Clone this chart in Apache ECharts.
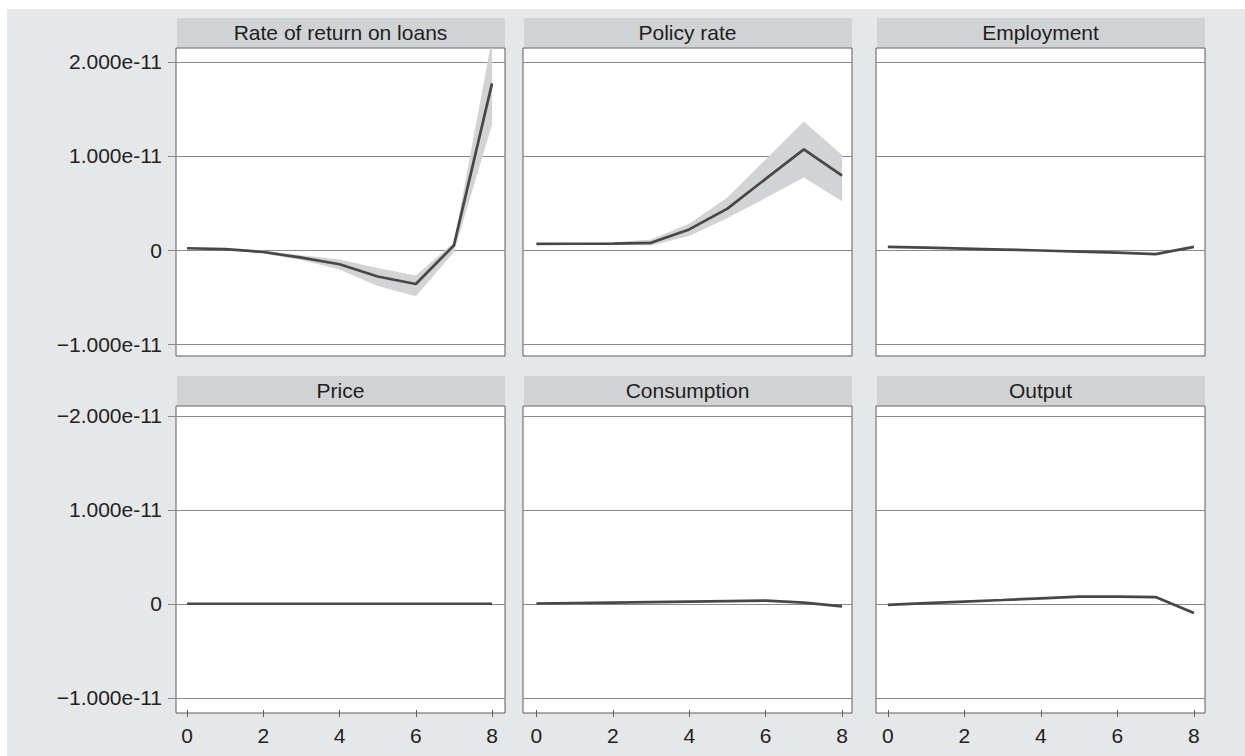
<!DOCTYPE html>
<html><head><meta charset="utf-8">
<script src="https://cdn.jsdelivr.net/npm/echarts@6/dist/echarts.min.js"></script>
<style>
html,body{margin:0;padding:0;background:#fff;}
#bg{position:absolute;left:7px;top:9px;width:1238px;height:747px;background:#e6e7e9;}
#chart{position:absolute;left:0;top:0;width:1245px;height:756px;}
</style></head><body>
<div id="bg"></div><div id="chart"></div>
<script>
// ---------------- DATA ----------------
const steps = [0, 1, 2, 3, 4, 5, 6, 7, 8];
const panelTitles = ['Rate of return on loans', 'Policy rate', 'Employment', 'Price', 'Consumption', 'Output'];

const rateMean  = [0.02e-11, 0.01e-11, -0.02e-11, -0.08e-11, -0.15e-11, -0.28e-11, -0.36e-11, 0.05e-11, 1.77e-11];
const rateUpper = [0.025e-11, 0.015e-11, -0.005e-11, -0.055e-11, -0.10e-11, -0.19e-11, -0.27e-11, 0.08e-11, 2.25e-11];
const rateLower = [0.015e-11, 0.005e-11, -0.035e-11, -0.105e-11, -0.205e-11, -0.38e-11, -0.49e-11, -0.02e-11, 1.33e-11];

const policyMean  = [0.067e-11, 0.068e-11, 0.070e-11, 0.078e-11, 0.22e-11, 0.44e-11, 0.757e-11, 1.07e-11, 0.79e-11];
const policyUpper = [0.075e-11, 0.077e-11, 0.082e-11, 0.114e-11, 0.28e-11, 0.56e-11, 0.963e-11, 1.365e-11, 1.01e-11];
const policyLower = [0.060e-11, 0.060e-11, 0.060e-11, 0.050e-11, 0.15e-11, 0.34e-11, 0.553e-11, 0.77e-11, 0.52e-11];

const employMean  = [0.035e-11, 0.026e-11, 0.016e-11, 0.006e-11, -0.004e-11, -0.015e-11, -0.027e-11, -0.043e-11, 0.035e-11];
const employUpper = [0.040e-11, 0.031e-11, 0.021e-11, 0.011e-11, 0.001e-11, -0.010e-11, -0.022e-11, -0.038e-11, 0.040e-11];
const employLower = [0.030e-11, 0.021e-11, 0.011e-11, 0.001e-11, -0.009e-11, -0.020e-11, -0.032e-11, -0.048e-11, 0.030e-11];

const priceMean  = [0, 0, 0, 0, 0, 0, 0, 0, 0];
const priceUpper = [0.002e-11, 0.002e-11, 0.002e-11, 0.002e-11, 0.002e-11, 0.002e-11, 0.002e-11, 0.002e-11, 0.002e-11];
const priceLower = [-0.002e-11, -0.002e-11, -0.002e-11, -0.002e-11, -0.002e-11, -0.002e-11, -0.002e-11, -0.002e-11, -0.002e-11];

const consMean  = [0.003e-11, 0.008e-11, 0.013e-11, 0.018e-11, 0.023e-11, 0.028e-11, 0.033e-11, 0.013e-11, -0.028e-11];
const consUpper = [0.006e-11, 0.011e-11, 0.016e-11, 0.021e-11, 0.026e-11, 0.031e-11, 0.037e-11, 0.017e-11, -0.022e-11];
const consLower = [0.000e-11, 0.005e-11, 0.010e-11, 0.015e-11, 0.020e-11, 0.025e-11, 0.029e-11, 0.009e-11, -0.034e-11];

const outMean  = [-0.011e-11, 0.006e-11, 0.023e-11, 0.040e-11, 0.058e-11, 0.075e-11, 0.075e-11, 0.071e-11, -0.099e-11];
const outUpper = [-0.007e-11, 0.010e-11, 0.027e-11, 0.044e-11, 0.062e-11, 0.080e-11, 0.080e-11, 0.076e-11, -0.090e-11];
const outLower = [-0.015e-11, 0.002e-11, 0.019e-11, 0.036e-11, 0.053e-11, 0.068e-11, 0.066e-11, 0.060e-11, -0.112e-11];

const yTickValues = [-1e-11, 0, 1e-11, 2e-11];
const yTickLabelsTop = ['\u22121.000e-11', '0', '1.000e-11', '2.000e-11'];
const yTickLabelsBottom = ['\u22121.000e-11', '0', '1.000e-11', '\u22122.000e-11'];
const xTickValues = [0, 2, 4, 6, 8];

// ---------------- LAYOUT ----------------
const means  = [rateMean, policyMean, employMean, priceMean, consMean, outMean];
const uppers = [rateUpper, policyUpper, employUpper, priceUpper, consUpper, outUpper];
const lowers = [rateLower, policyLower, employLower, priceLower, consLower, outLower];

const colLeft = [176, 523, 876];
const colWidth = 329;
const rowTop = [48, 406];
const rowHeight = [308, 307];
const headerTop = [18, 376];
const headerH = 29;
const xMin = [-0.29, -0.35, -0.31];
const xMax = [8.34, 8.26, 8.29];
const yMin = [-1.124e-11, -1.162e-11];
const yMax = [2.146e-11, 2.104e-11];
const FONT = "'Liberation Sans', Arial, Helvetica, sans-serif";
const FS = 21;
const HIDDEN = 'rgba(0,0,0,0)';

function nearestIdx(v) {
  let b = 0, bd = Infinity;
  yTickValues.forEach((t, i) => { const d = Math.abs(t - v); if (d < bd) { bd = d; b = i; } });
  return b;
}

function makeBandRenderer(data) {
  return function (params, api) {
    if (params.dataIndex !== 0) return null;
    const pts = [];
    for (let i = 0; i < data.length; i++) pts.push(api.coord([data[i][0], data[i][2]]));
    for (let i = data.length - 1; i >= 0; i--) pts.push(api.coord([data[i][0], data[i][1]]));
    return { type: 'polygon', shape: { points: pts }, style: { fill: '#d2d3d4', stroke: null } };
  };
}

const grids = [], xAxes = [], yAxes = [], series = [], graphics = [], extraX = [];
for (let p = 0; p < 6; p++) {
  const r = Math.floor(p / 3), c = p % 3;
  grids.push({
    left: colLeft[c], top: rowTop[r], width: colWidth, height: rowHeight[r],
    show: true, backgroundColor: '#ffffff', borderColor: '#5c5c5c', borderWidth: 1
  });
  xAxes.push({
    gridIndex: p, type: 'value', min: xMin[c], max: xMax[c], position: 'bottom',
    axisLine: { show: false, onZero: false },
    splitLine: { show: false },
    axisTick: { show: r === 1, customValues: xTickValues, length: r === 1 ? 4 : 0, lineStyle: { color: r === 1 ? '#5c5c5c' : HIDDEN, width: 1 } },
    axisLabel: { show: r === 1, customValues: xTickValues, margin: 12, fontSize: FS, color: '#222', fontFamily: FONT }
  });
  if (r === 1) {
    extraX.push({
      gridIndex: p, type: 'value', min: xMin[c], max: xMax[c], position: 'bottom', offset: 0,
      axisLine: { show: false, onZero: false },
      splitLine: { show: false },
      axisTick: { show: true, inside: true, customValues: xTickValues, length: 3, lineStyle: { color: '#5c5c5c', width: 1 } },
      axisLabel: { show: false }
    });
  }
  const labels = r === 0 ? yTickLabelsTop : yTickLabelsBottom;
  yAxes.push({
    gridIndex: p, type: 'value', min: yMin[r], max: yMax[r],
    axisLine: { show: false, onZero: false },
    splitLine: { show: true, lineStyle: { color: '#8a8a8a', width: 1 } },
    axisTick: { show: c === 0, customValues: yTickValues, length: c === 0 ? 8 : 0, lineStyle: { color: c === 0 ? '#8a8a8a' : HIDDEN, width: 1 } },
    axisLabel: {
      show: c === 0, customValues: yTickValues, margin: 14, fontSize: FS, color: '#222', fontFamily: FONT,
      formatter: (v) => labels[nearestIdx(v)]
    }
  });
  const bandData = steps.map((s, i) => [s, lowers[p][i], uppers[p][i]]);
  const meanData = steps.map((s, i) => [s, means[p][i]]);
  series.push({
    type: 'custom', xAxisIndex: p, yAxisIndex: p, data: bandData, clip: true, silent: true,
    encode: { x: 0, y: [1, 2] }, renderItem: makeBandRenderer(bandData), z: 2
  });
  series.push({
    type: 'line', xAxisIndex: p, yAxisIndex: p, data: meanData,
    symbol: 'none', lineStyle: { color: '#474747', width: 2.7 }, z: 3
  });
  graphics.push({
    type: 'rect', shape: { x: colLeft[c] + 1, y: headerTop[r], width: colWidth - 1, height: headerH },
    style: { fill: '#d1d2d4' }, silent: true
  });
  graphics.push({
    type: 'text', x: colLeft[c] + colWidth / 2, y: headerTop[r] + headerH / 2,
    style: { text: panelTitles[p], fill: '#1e1e1e', font: FS + 'px ' + FONT, textAlign: 'center', textVerticalAlign: 'middle' },
    silent: true
  });
}

const chart = echarts.init(document.getElementById('chart'), null, { renderer: 'svg' });
chart.setOption({
  backgroundColor: 'transparent',
  animation: false,
  grid: grids, xAxis: xAxes.concat(extraX), yAxis: yAxes, series: series,
  graphic: graphics
});
</script></body></html>
